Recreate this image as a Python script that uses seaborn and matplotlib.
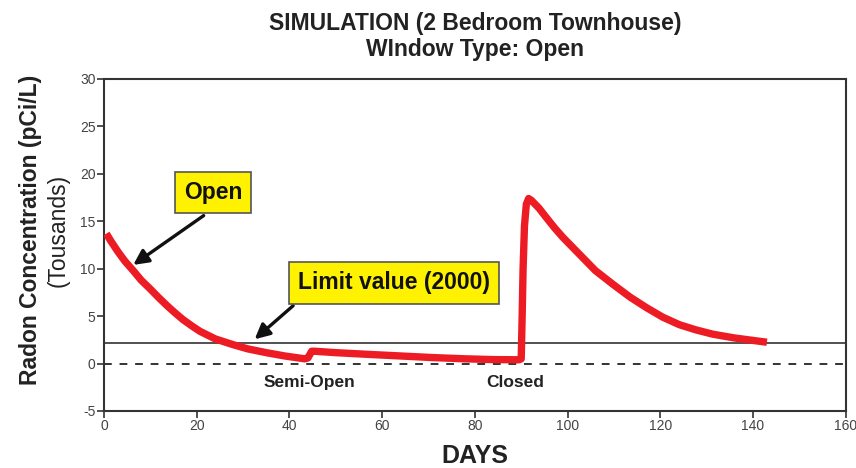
import pandas as pd
import matplotlib.pyplot as plt
import seaborn as sns

# Radon simulation values (thousands pCi/L)
days = [0.5, 1.5, 3, 4.5, 6.3, 8, 10, 11.7, 13.5, 15.2, 17, 19, 20.7, 24, 27.8, 31, 35, 39, 43.3,
        44.0, 44.8, 45.5,
        50, 56.6, 64, 71, 78, 84, 89.5,
        90.0, 90.2, 90.4, 90.7, 91.1, 91.6, 92.2,
        93.8, 95.4, 97.2, 99, 100.8, 102.6, 106, 109.8, 113.5, 117, 120.5, 124.1, 127.7,
        131.3, 136, 141.4, 143]
radon = [13.7, 12.9, 11.8, 10.8, 9.8, 8.8, 7.85, 7.0, 6.15, 5.4, 4.65, 3.95, 3.4, 2.6, 2.0, 1.55,
         1.15, 0.8, 0.5,
         0.6, 1.3, 1.3,
         1.15, 0.98, 0.8, 0.63, 0.5, 0.42, 0.4,
         0.5, 5, 10, 14.5, 16.8, 17.4, 17.2,
         16.4, 15.4, 14.3, 13.3, 12.4, 11.5, 9.8, 8.35, 7.0, 5.9, 4.9, 4.1, 3.55,
         3.1, 2.7, 2.35, 2.25]
limit_value = 2.2
x_ticks = [0, 20, 40, 60, 80, 100, 120, 140, 160]
y_ticks = [-5, 0, 5, 10, 15, 20, 25, 30]

df = pd.DataFrame({'day': days, 'radon': radon})

sns.set_style('ticks')
plt.rcParams['font.family'] = ['Liberation Sans', 'DejaVu Sans']
plt.rcParams['axes.unicode_minus'] = False
narrow = ['Liberation Sans Narrow', 'Liberation Sans', 'DejaVu Sans']

fig = plt.figure(figsize=(8.56, 4.68), dpi=100)
ax = fig.add_axes([0.1215, 0.1218, 0.8665, 0.7094])

# limit line and zero line
ax.axhline(limit_value, color='#333333', lw=1.2, zorder=1)
ax.axhline(0, color='#333333', lw=1.4, ls=(0, (4, 4)), zorder=1)

sns.lineplot(data=df, x='day', y='radon', color='#ED1C24', linewidth=5.3,
             sort=False, ax=ax, zorder=3, solid_capstyle='butt', solid_joinstyle='round')

ax.set_xlim(0, 160)
ax.set_ylim(-5, 30)
ax.set_xticks(x_ticks)
ax.set_yticks(y_ticks)
ax.tick_params(axis='both', labelsize=10, labelcolor='#444444', color='#333333',
               length=5, width=1.2, direction='out', pad=1)
for lab in ax.get_xticklabels() + ax.get_yticklabels():
    lab.set_family(narrow)
for s in ax.spines.values():
    s.set_visible(True)
    s.set_color('#333333')
    s.set_linewidth(1.5)

ax.set_xlabel('DAYS', fontsize=18, fontweight='bold', color='#222222', labelpad=8,
              family=narrow)
ax.set_ylabel('')
fig.text(0.036, 0.508, 'Radon Concentration (pCi/L)', rotation=90, ha='center', va='center',
         fontsize=16.5, fontweight='bold', color='#222222')
fig.text(0.068, 0.508, '(Tousands)', rotation=90, ha='center', va='center',
         fontsize=16.5, color='#222222')

fig.text(0.555, 0.950, 'SIMULATION (2 Bedroom Townhouse)', ha='center', va='center',
         fontsize=16.5, fontweight='bold', color='#222222')
fig.text(0.555, 0.895, 'WIndow Type: Open', ha='center', va='center',
         fontsize=16.5, fontweight='bold', color='#222222')

ax.text(44.4, -2.0, 'Semi-Open', ha='center', va='center', fontsize=12.5, fontweight='bold',
        color='#222222', family=narrow)
ax.text(88.8, -2.0, 'Closed', ha='center', va='center', fontsize=12.5, fontweight='bold',
        color='#222222', family=narrow)

# yellow callouts with arrows
box = dict(boxstyle='square,pad=0.4', fc='#FFF200', ec='#555555', lw=1.2)
arrow = dict(arrowstyle='-|>,head_length=0.9,head_width=0.45', color='#111111', lw=2.4,
             shrinkA=0, shrinkB=0)
ax.annotate('', xy=(6.3, 10.4), xytext=(21.5, 15.6), arrowprops=arrow)
ax.annotate('', xy=(32.5, 2.56), xytext=(40.8, 6.1), arrowprops=arrow)
ax.text(23.5, 18.0, 'Open', ha='center', va='center', fontsize=16.5, fontweight='bold',
        color='#111111', bbox=box)
ax.text(62.6, 8.5, 'Limit value (2000)', ha='center', va='center', fontsize=16.5,
        fontweight='bold', color='#111111', bbox=box)

plt.savefig('out.png', dpi=100)
